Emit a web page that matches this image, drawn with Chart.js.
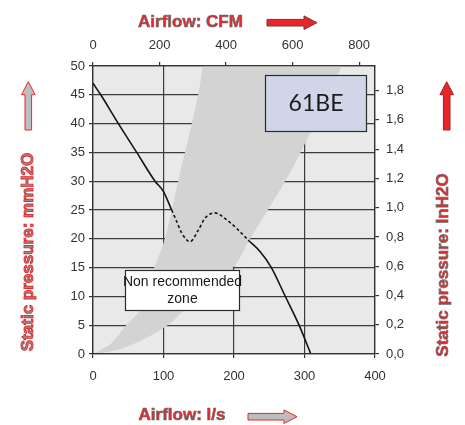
<!DOCTYPE html>
<html>
<head>
<meta charset="utf-8">
<title>61BE fan curve</title>
<script src="https://cdn.jsdelivr.net/npm/chart.js@4.4.1/dist/chart.umd.min.js"></script>
<style>
    html, body { margin: 0; padding: 0; background: #fff; }
    #wrap { width: 465px; height: 425px; position: relative; }
</style>
</head>
<body>
<div id="wrap"><canvas id="fanChart"></canvas></div>
<script>
// Fan curve 61BE - static pressure against airflow

// fan curve (l/s, mmH2O)
var fanFlow     = [0, 11, 36, 62, 88, 100, 111.6, 118.7, 125.8, 137.6, 149.4, 158.9, 173, 189.6, 203.8, 220, 236.9, 253, 272, 292, 309];
var fanPressure = [47, 45, 40, 35, 30, 28.2, 25, 23, 21, 19.5, 21.5, 23.6, 24.5, 23.3, 21.8, 19.8, 17.8, 15, 10.2, 5.1, 0];
// the part between these two points is drawn dashed
var dashFrom = 6;
var dashTo = 15;

// non recommended zone: left edge (upwards) and right edge (upwards)
var zoneLeftFlow      = [0, 12, 26.5, 47, 66.7, 85.5, 102, 120.6, 149, 155.6, 162];
var zoneLeftPressure  = [0, 0.8, 1.9, 5, 7.7, 14.6, 20, 29.9, 44.9, 50, 56];
var zoneRightFlow     = [0, 35.5, 71, 106, 130, 198.6, 222.7, 248, 272, 289, 310, 352.8, 372];
var zoneRightPressure = [0, 0.75, 2.5, 5, 7.7, 15, 20, 25, 29.9, 33.7, 38.9, 50, 56];

// tick settings
var flowMax = 400;           // l/s
var flowStep = 100;
var cfmStep = 200;
var pressureMax = 50;        // mmH2O
var pressureStep = 5;
var inchStep = 0.2;
var LS_PER_CFM = 0.471947;
var MM_PER_INCH = 25.4;

var modelName = '61BE';
var zoneLabel = ['Non recommended', 'zone'];

var RED = '#e8262a';
var EDGE_GRAY = '#6e6e6e';
var TICK_FONT = { family: "'Liberation Sans', Arial, sans-serif", size: 13 };
var TITLE_FONT = "bold 17px 'Liberation Sans', Arial, sans-serif";

function toPoints(xs, ys) {
    var pts = [];
    for (var i = 0; i < xs.length; i++) {
        pts.push({ x: xs[i], y: ys[i] });
    }
    return pts;
}

// closed outline of the zone: up the left edge, down the right edge
var zonePoints = toPoints(zoneLeftFlow, zoneLeftPressure)
    .concat(toPoints(zoneRightFlow, zoneRightPressure).reverse());

var plotBackground = {
    id: 'plotBackground',
    beforeDraw: function(chart) {
        var a = chart.chartArea;
        var ctx = chart.ctx;
        ctx.save();
        ctx.fillStyle = '#e9e9e9';
        ctx.fillRect(a.left, a.top, a.right - a.left, a.bottom - a.top);
        ctx.restore();
    }
};

function drawBox(chart, x0, x1, y0, y1, fill, lines, font, lineGap) {
    var ctx = chart.ctx;
    var sx = chart.scales.x, sy = chart.scales.y;
    var l = Math.round(sx.getPixelForValue(x0)) + 0.5;
    var r = Math.round(sx.getPixelForValue(x1)) + 0.5;
    var t = Math.round(sy.getPixelForValue(y1)) + 0.5;
    var b = Math.round(sy.getPixelForValue(y0)) + 0.5;
    ctx.save();
    ctx.fillStyle = fill;
    ctx.fillRect(l, t, r - l, b - t);
    ctx.strokeStyle = '#2b2b2b';
    ctx.lineWidth = 1.2;
    ctx.strokeRect(l, t, r - l, b - t);
    ctx.fillStyle = '#1a1a1a';
    ctx.font = font;
    ctx.textAlign = 'center';
    ctx.textBaseline = 'middle';
    var cy = (t + b) / 2 - (lines.length - 1) * lineGap / 2;
    for (var i = 0; i < lines.length; i++) {
        ctx.fillText(lines[i], (l + r) / 2, cy + i * lineGap);
    }
    ctx.restore();
}

var labelBoxes = {
    id: 'labelBoxes',
    afterDatasetsDraw: function(chart) {
        drawBox(chart, 244, 387.5, 38.75, 48.5, '#d0d5e8', [modelName], "23px Lato, 'DejaVu Sans', sans-serif", 0);
        drawBox(chart, 45.4, 207.5, 7.7, 14.5, '#ffffff', zoneLabel, "14px 'Liberation Sans', Arial, sans-serif", 17.5);
    }
};

function drawArrow(ctx, x1, y1, x2, y2, fill, stroke) {
    var dx = x2 - x1, dy = y2 - y1;
    var len = Math.sqrt(dx * dx + dy * dy);
    var sw = 3.3, hw = 6.8, hl = 13;
    ctx.save();
    ctx.translate(x1, y1);
    ctx.rotate(Math.atan2(dy, dx));
    ctx.beginPath();
    ctx.moveTo(0, -sw);
    ctx.lineTo(len - hl, -sw);
    ctx.lineTo(len - hl, -hw);
    ctx.lineTo(len, 0);
    ctx.lineTo(len - hl, hw);
    ctx.lineTo(len - hl, sw);
    ctx.lineTo(0, sw);
    ctx.closePath();
    ctx.fillStyle = fill;
    ctx.fill();
    ctx.strokeStyle = stroke;
    ctx.lineWidth = 1;
    ctx.stroke();
    ctx.restore();
}

function drawTitle(ctx, text, x, y, angle, fill, stroke, strokeWidth) {
    ctx.save();
    ctx.translate(x, y);
    ctx.rotate(angle);
    ctx.font = TITLE_FONT;
    ctx.textAlign = 'center';
    ctx.textBaseline = 'middle';
    ctx.fillStyle = fill;
    ctx.fillText(text, 0, 0);
    ctx.strokeStyle = stroke;
    ctx.lineWidth = strokeWidth;
    ctx.strokeText(text, 0, 0);
    ctx.restore();
}

var axisTitles = {
    id: 'axisTitles',
    afterDraw: function(chart) {
        var ctx = chart.ctx;
        drawTitle(ctx, 'Airflow: CFM', 190.5, 22, 0, RED, EDGE_GRAY, 0.7);
        drawArrow(ctx, 267, 22.7, 317, 22.7, RED, '#7a3535');
        drawTitle(ctx, 'Airflow: l/s', 182, 415, 0, RED, EDGE_GRAY, 0.7);
        drawArrow(ctx, 248, 416.7, 297, 416.7, '#bdbdbd', RED);
        drawTitle(ctx, 'Static pressure: mmH2O', 28, 252, -Math.PI / 2, '#9a8a8a', RED, 0.9);
        drawArrow(ctx, 28.3, 130, 28.3, 81.7, '#bdbdbd', RED);
        drawTitle(ctx, 'Static pressure: InH2O', 443, 265, -Math.PI / 2, RED, EDGE_GRAY, 0.7);
        drawArrow(ctx, 446.7, 130, 446.7, 81.7, RED, '#a82020');
    }
};

function gridOpts(onChart) {
    return {
        drawOnChartArea: onChart,
        color: '#3c3c3c',
        lineWidth: 1.2,
        drawTicks: true,
        tickLength: 4,
        tickColor: '#333',
        tickWidth: 1.2
    };
}

var borderOpts = { display: true, color: '#333', width: 1.3, z: 1 };

function initChart() {
    var canvas = document.getElementById('fanChart');
    if (!canvas) {
        console.error('Canvas #fanChart not found');
        return;
    }

    new Chart(canvas.getContext('2d'), {
        type: 'line',
        data: {
            datasets: [{
                label: modelName,
                data: toPoints(fanFlow, fanPressure),
                borderColor: '#141414',
                borderWidth: 1.6,
                pointRadius: 0,
                fill: false,
                cubicInterpolationMode: 'monotone',
                segment: {
                    borderDash: function(c) {
                        return (c.p0DataIndex >= dashFrom && c.p1DataIndex <= dashTo) ? [3, 2.5] : undefined;
                    }
                },
                xAxisID: 'x',
                yAxisID: 'y'
            }, {
                label: 'zone',
                data: zonePoints,
                borderWidth: 0,
                borderColor: 'rgba(0,0,0,0)',
                backgroundColor: '#d3d3d3',
                pointRadius: 0,
                tension: 0.35,
                fill: 'shape',
                xAxisID: 'x',
                yAxisID: 'y'
            }]
        },
        options: {
            responsive: true,
            maintainAspectRatio: false,
            animation: false,
            layout: { padding: 0 },
            plugins: {
                legend: { display: false },
                tooltip: { enabled: false }
            },
            scales: {
                x: {
                    type: 'linear',
                    position: 'bottom',
                    min: 0,
                    max: flowMax,
                    grid: gridOpts(true),
                    border: borderOpts,
                    ticks: { stepSize: flowStep, padding: 11, color: '#333', font: TICK_FONT, maxRotation: 0 },
                    afterFit: function(s) { s.height = 71; }
                },
                xTop: {
                    type: 'linear',
                    position: 'top',
                    min: 0,
                    max: flowMax / LS_PER_CFM,
                    grid: gridOpts(false),
                    border: borderOpts,
                    ticks: { stepSize: cfmStep, includeBounds: false, padding: 9, color: '#333', font: TICK_FONT, maxRotation: 0 },
                    afterFit: function(s) { s.height = 66; }
                },
                y: {
                    type: 'linear',
                    position: 'left',
                    min: 0,
                    max: pressureMax,
                    grid: gridOpts(true),
                    border: borderOpts,
                    ticks: { stepSize: pressureStep, padding: 4, color: '#333', font: TICK_FONT },
                    afterFit: function(s) { s.width = 93; }
                },
                yRight: {
                    type: 'linear',
                    position: 'right',
                    min: 0,
                    max: pressureMax / MM_PER_INCH,
                    grid: gridOpts(false),
                    border: borderOpts,
                    ticks: {
                        stepSize: inchStep,
                        includeBounds: false,
                        padding: 7,
                        color: '#333',
                        font: TICK_FONT,
                        callback: function(v) { return v.toFixed(1).replace('.', ','); }
                    },
                    afterFit: function(s) { s.width = 90; }
                }
            }
        },
        plugins: [plotBackground, labelBoxes, axisTitles]
    });
}

if (document.readyState === 'loading') {
    document.addEventListener('DOMContentLoaded', initChart);
} else {
    initChart();
}
</script>
</body>
</html>
